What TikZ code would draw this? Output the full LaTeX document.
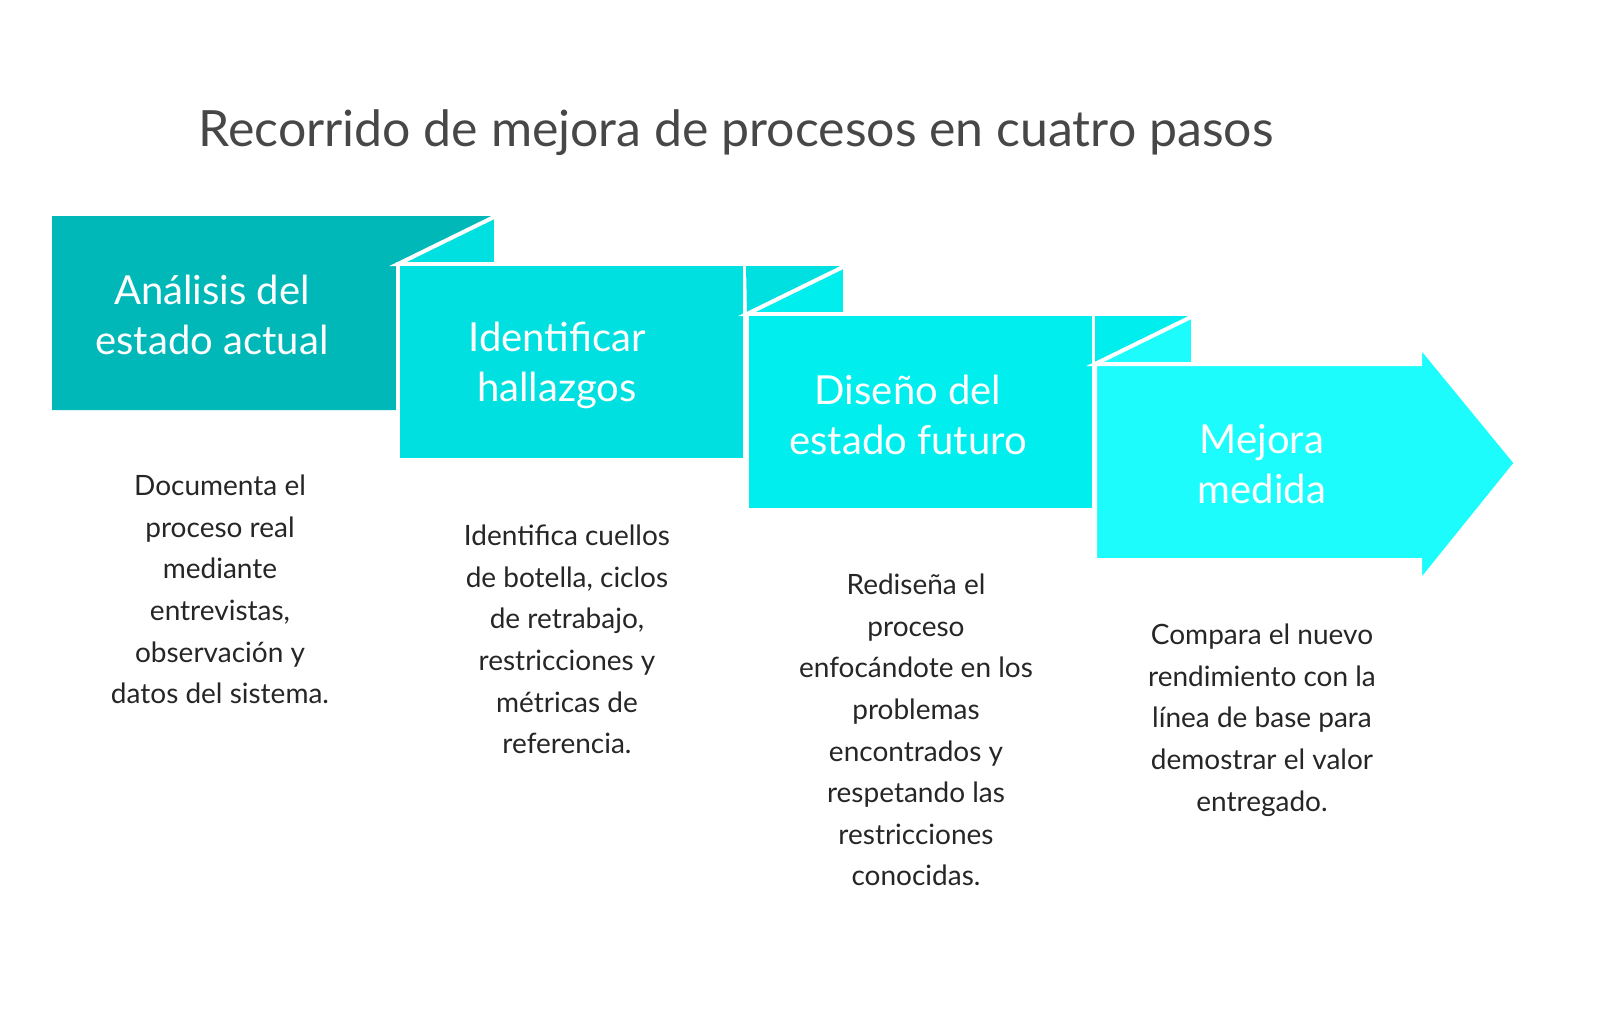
\documentclass[tikz,border=0pt]{standalone}
\usepackage{fontspec}
\setmainfont{Lato}
\begin{document}
\begin{tikzpicture}[x=0.5pt,y=-0.5pt,
  wl/.style={draw=white,line width=2pt,line join=miter},
  lab/.style={text=white,font=\fontsize{20}{25}\selectfont,align=center},
  body/.style={text=black!85,font=\fontsize{14}{20.8}\selectfont,align=center,anchor=north}]
\useasboundingbox (0,0) rectangle (1600,1014);
\definecolor{ca}{HTML}{00B8B8}\definecolor{cb}{HTML}{00E0E0}
\definecolor{cc}{HTML}{00EEEE}\definecolor{cd}{HTML}{1CFCFC}
\node[text=black!72,font=\fontsize{25}{30}\selectfont] (title) at (736,133) {Recorrido de mejora de procesos en cuatro pasos};
% step 1
\fill[ca] (52,216) -- (496,216) -- (398,264) -- (398,410) -- (52,410) -- cycle;
\filldraw[cb,wl] (398,264) -- (496,216) -- (496,264) -- cycle;
\filldraw[cb,wl] (398,264) rectangle (745,460);
\fill[cb] (746,266) -- (845,266) -- (747,314) -- cycle;
\filldraw[cc,wl] (747,314) -- (845,266) -- (845,314) -- cycle;
\filldraw[cc,wl] (747,314) rectangle (1094,510);
\fill[cc] (1095,316) -- (1193,316) -- (1095,364) -- cycle;
\filldraw[cd,wl] (1095,364) -- (1193,316) -- (1193,364) -- cycle;
\filldraw[cd,wl] (1095,364) -- (1420,364) -- (1420,346) -- (1516,463) -- (1420,582) -- (1420,560) -- (1095,560) -- cycle;
\node[lab] (l1) at (212,315) {Análisis del\\estado actual};
\node[lab] (l2) at (557,365) {Identificar\\hallazgos};
\node[lab] (l3) at (908,415) {Diseño del\\estado futuro};
\node[lab] (l4) at (1262,464) {Mejora\\medida};
\node[body] (b1) at (220,468) {Documenta el\\proceso real\\mediante\\entrevistas,\\observación y\\datos del sistema.};
\node[body] (b2) at (567,518) {Identifica cuellos\\de botella, ciclos\\de retrabajo,\\restricciones y\\métricas de\\referencia.};
\node[body] (b3) at (916,567) {Rediseña el\\proceso\\enfocándote en los\\problemas\\encontrados y\\respetando las\\restricciones\\conocidas.};
\node[body] (b4) at (1262,617) {Compara el nuevo\\rendimiento con la\\línea de base para\\demostrar el valor\\entregado.};
\end{tikzpicture}
\end{document}
